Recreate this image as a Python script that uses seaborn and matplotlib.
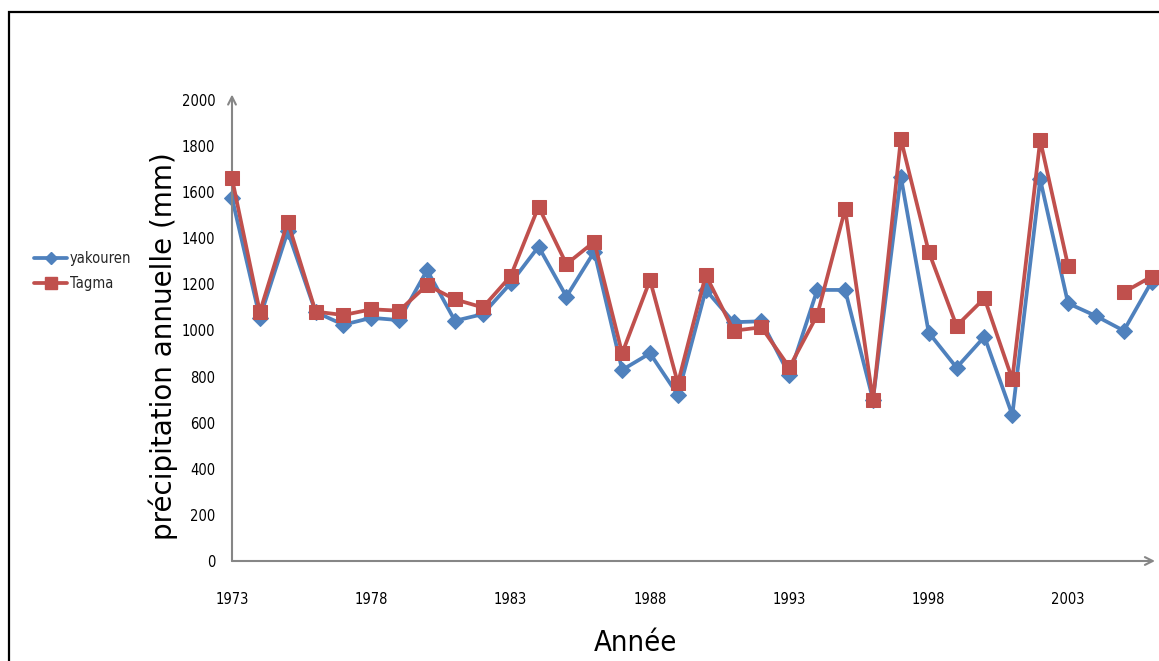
import numpy as np
import pandas as pd
import matplotlib
matplotlib.use("Agg")
import matplotlib.pyplot as plt
from matplotlib.lines import Line2D
from matplotlib.patches import Rectangle
from matplotlib import font_manager
import seaborn as sns

# ---- data ----
years = list(range(1973, 2007))
yakouren = [1575, 1055, 1430, 1080, 1025, 1055, 1045, 1262, 1042, 1071,
            1205, 1364, 1147, 1342, 829, 901, 720, 1176, 1036, 1040,
            807, 1176, 1176, 700, 1668, 991, 839, 973, 633, 1656,
            1118, 1063, 999, 1212]
tagma = [1660, 1080, 1472, 1082, 1067, 1092, 1086, 1197, 1135, 1100,
         1236, 1537, 1288, 1385, 901, 1219, 771, 1241, 999, 1014,
         840, 1067, 1526, 698, 1831, 1342, 1020, 1140, 788, 1826,
         1281, np.nan, 1166, 1234]
series_names = ["yakouren", "Tagma"]
xtick_years = list(range(1973, 2004, 5))
ytick_vals = list(range(0, 2001, 200))

BLUE = "#4F81BD"
RED = "#C0504D"
AXIS = "#868686"

sns.set_theme(style="white")
has_cond = any(f.name == "DejaVu Sans" and str(f.stretch) in ("condensed", "semi-condensed")
               for f in font_manager.fontManager.ttflist)
STRETCH = "condensed" if has_cond else "normal"
plt.rcParams["font.family"] = ["DejaVu Sans"]
plt.rcParams["font.stretch"] = STRETCH

fig = plt.figure(figsize=(11.59, 6.61), dpi=100)
ax = fig.add_axes([232 / 1159, 1 - 561 / 661, (1155 - 232) / 1159, 461 / 661])

df_y = pd.DataFrame({"year": years, "value": yakouren})
tg = np.array(tagma, dtype=float)
df_t = pd.DataFrame({"year": years, "value": tg, "seg": np.cumsum(np.isnan(tg))})
df_t = df_t.dropna()

sns.lineplot(data=df_y, x="year", y="value", color=BLUE, marker="D",
             markersize=8, markeredgecolor=BLUE, linewidth=2.7, ax=ax,
             clip_on=False, zorder=3)
sns.lineplot(data=df_t, x="year", y="value", units="seg", estimator=None,
             color=RED, marker="s", markersize=10, markeredgecolor=RED,
             linewidth=2.7, ax=ax, clip_on=False, zorder=4)

ax.set_xlim(1973, 2006.12)
ax.set_ylim(0, 2000)
ax.set_xticks(xtick_years)
ax.set_xticklabels([str(y) for y in xtick_years])
ax.set_yticks(ytick_vals)
ax.set_yticklabels([str(v) for v in ytick_vals])
tick_fs = 10.5 if has_cond else 9.5
ax.tick_params(axis="both", length=0, labelsize=tick_fs, colors="black")
ax.tick_params(axis="x", pad=22)
ax.tick_params(axis="y", pad=12)
for lab in ax.get_xticklabels() + ax.get_yticklabels():
    lab.set_fontstretch(STRETCH)
for s in ax.spines.values():
    s.set_visible(False)
ax.set_xlabel("")
ax.set_ylabel("")

# axis lines with arrows
ax.annotate("", xy=(1.0, 0), xytext=(0, 0), xycoords="axes fraction",
            arrowprops=dict(arrowstyle="->", color=AXIS, lw=1.5, mutation_scale=14,
                            shrinkA=0, shrinkB=0), annotation_clip=False)
ax.annotate("", xy=(0, 1.012), xytext=(0, 0), xycoords="axes fraction",
            arrowprops=dict(arrowstyle="->", color=AXIS, lw=1.5, mutation_scale=14,
                            shrinkA=0, shrinkB=0), annotation_clip=False)

# axis titles
fig.text(163 / 1159, 1 - 346 / 661, "précipitation annuelle (mm)", rotation=90,
         ha="center", va="center", fontsize=20, fontstretch="normal", color="black")
fig.text(635 / 1159, 1 - 643 / 661, "Année", ha="center", va="center",
         fontsize=21, fontstretch=STRETCH, color="black")

# legend
handles = [
    Line2D([], [], color=BLUE, marker="D", markersize=6.5, markeredgecolor=BLUE, linewidth=2.7),
    Line2D([], [], color=RED, marker="s", markersize=8.5, markeredgecolor=RED, linewidth=2.7),
]
leg = fig.legend(handles, series_names, loc="center left",
                 bbox_to_anchor=(28 / 1159, 1 - 271 / 661), frameon=False,
                 fontsize=10.5, handlelength=2.3, handletextpad=0.15, labelspacing=0.7,
                 borderaxespad=0)
for t in leg.get_texts():
    t.set_fontstretch(STRETCH)

# outer frame (cropped chart border)
fig.patches.append(Rectangle((9 / 1159, -0.1), 1.2, (1 - 12 / 661) + 0.1,
                             transform=fig.transFigure, fill=False,
                             edgecolor="black", linewidth=1.6))

fig.savefig("out.png", dpi=100)
